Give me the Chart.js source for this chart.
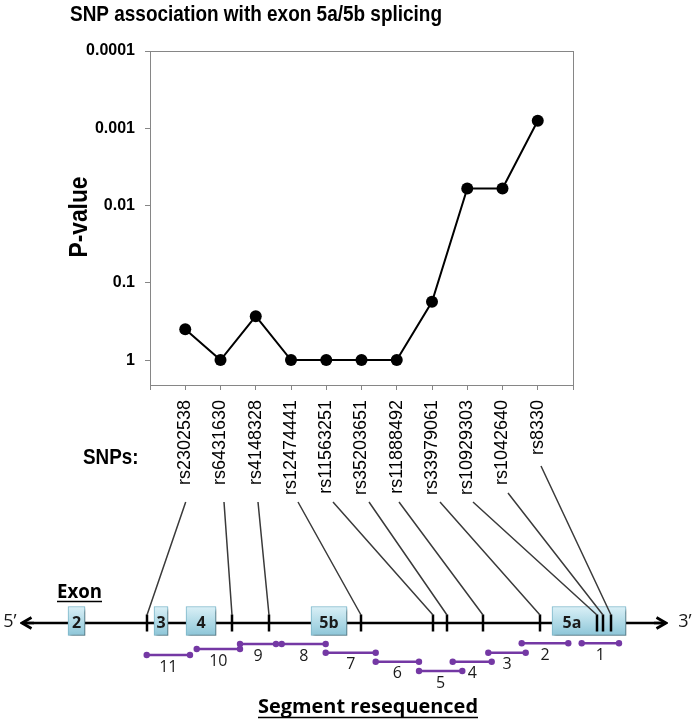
<!DOCTYPE html>
<html>
<head>
<meta charset="utf-8">
<title>SNP association with exon 5a/5b splicing</title>
<script src="https://cdn.jsdelivr.net/npm/chart.js@4.4.1/dist/chart.umd.min.js"></script>
<style>
html, body { margin: 0; padding: 0; background: #fff; }
#wrap { position: relative; width: 694px; height: 721px; }
#wrap canvas { position: absolute; left: 0; top: 0; }
</style>
</head>
<body>
<div id="wrap">
  <canvas id="plot" width="694" height="721"></canvas>
  <canvas id="gene" width="694" height="721"></canvas>
</div>
<script>
// SNPs in gene order and their association p-values
const snps = ["rs2302538", "rs6431630", "rs4148328", "rs12474441", "rs11563251",
              "rs35203651", "rs11888492", "rs33979061", "rs10929303", "rs1042640", "rs8330"];
const pValues = [0.40, 1, 0.27, 1, 1, 1, 1, 0.176, 0.006, 0.006, 0.0008];

const yTicks = [0.0001, 0.001, 0.01, 0.1, 1];
const yTickLabels = ["0.0001", "0.001", "0.01", "0.1", "1"];

// gene schematic, in schematic units
const exonNames = ["2", "3", "4", "5b", "5a"];
const exonStart = [68, 154, 186, 311, 552];
const exonEnd = [85, 168, 216, 347, 626];
const exonLabelX = [76.5, 161, 201, 329, 572];

const snpPos = [147, 232, 269, 361, 433, 447, 483, 540, 597, 603, 611];
const connTopX = [185.7, 224, 258, 298, 333, 369, 399, 440, 473, 508, 541];
const connTopY = [502, 502, 502, 502, 502, 502, 502, 502, 502, 493, 466];

const segNames = ["1", "2", "3", "4", "5", "6", "7", "8", "9", "10", "11"];
const segStart = [581.7, 521.7, 488.3, 452.7, 419, 375.7, 325.7, 281.7, 240, 196.7, 146.7];
const segEnd = [619, 568.3, 525.7, 491.7, 462.3, 419, 375.7, 325.7, 276, 240, 190];
const segRow = [643.3, 643.3, 652.7, 661.7, 671, 661.7, 652.7, 644, 644, 649, 655];

const geneRow = 623;
const exonRow = 621;
const connBottom = 615;
const geneFrom = 27, geneTo = 661;

const ARIAL = "'Liberation Sans', Arial, sans-serif";
const CALI = "'Open Sans', Lato, sans-serif";

// draw text squeezed/stretched along its direction to a given width
function fitText(ctx, txt, x, y, font, align, width, rot) {
    ctx.save();
    ctx.font = font;
    ctx.textAlign = align;
    ctx.textBaseline = "alphabetic";
    ctx.translate(x, y);
    if (rot) ctx.rotate(rot);
    const w = ctx.measureText(txt).width;
    ctx.scale(width / w, 1);
    ctx.fillText(txt, 0, 0);
    ctx.restore();
}

const plotText = {
    id: "plotText",
    afterDraw(chart) {
        const { ctx, chartArea: a } = chart;
        ctx.save();
        ctx.strokeStyle = "#868686";
        ctx.lineWidth = 1;
        ctx.strokeRect(Math.round(a.left) + 0.5, Math.round(a.top) + 0.5,
            Math.round(a.right - a.left), Math.round(a.bottom - a.top));
        ctx.fillStyle = "#000";
        fitText(ctx, "SNP association with exon 5a/5b splicing", 256, 21,
            "bold 22px " + ARIAL, "center", 372);
        fitText(ctx, "SNPs:", 83, 464, "bold 22px " + ARIAL, "left", 55.5);
        fitText(ctx, "P-value", 87, 217, "bold 26px " + ARIAL, "center", 81, -Math.PI / 2);
        ctx.restore();
    }
};

new Chart(document.getElementById("plot"), {
    type: "line",
    data: {
        datasets: [{
            data: pValues.map((p, i) => ({ x: i + 1, y: p })),
            borderColor: "#000",
            borderWidth: 2,
            pointRadius: 6,
            pointBackgroundColor: "#000",
            pointBorderWidth: 0,
            tension: 0
        }]
    },
    options: {
        responsive: false,
        animation: false,
        events: [],
        layout: { autoPadding: false, padding: { left: 0, right: 121, top: 51, bottom: 0 } },
        plugins: { legend: { display: false }, tooltip: { enabled: false } },
        scales: {
            x: {
                type: "linear",
                min: 0,
                max: 12,
                afterFit(s) { s.height = 336; },
                ticks: {
                    stepSize: 1,
                    autoSkip: false,
                    minRotation: 90,
                    maxRotation: 90,
                    padding: 10,
                    color: "#000",
                    font: { family: ARIAL, size: 18 },
                    callback: v => snps[v - 1] || ""
                },
                grid: { drawOnChartArea: false, tickLength: 5, color: "#868686" },
                border: { color: "#868686" }
            },
            y: {
                type: "logarithmic",
                reverse: true,
                min: 0.0001,
                max: 2.1,
                afterFit(s) { s.width = 150; },
                afterBuildTicks(s) { s.ticks = yTicks.map(v => ({ value: v })); },
                ticks: {
                    padding: 10,
                    color: "#000",
                    font: { family: ARIAL, size: 16, weight: "bold" },
                    callback: v => {
                        const i = yTicks.indexOf(v);
                        return i < 0 ? "" : yTickLabels[i];
                    }
                },
                grid: { drawOnChartArea: false, tickLength: 5, color: "#868686" },
                border: { color: "#868686" }
            }
        }
    },
    plugins: [plotText]
});

// ---- gene schematic ----

function arrowHead(dir) {
    const c = document.createElement("canvas");
    c.width = 14;
    c.height = 14;
    const g = c.getContext("2d");
    if (dir > 0) { g.translate(14, 0); g.scale(-1, 1); }
    g.strokeStyle = "#000";
    g.lineWidth = 2.8;
    g.beginPath();
    g.moveTo(11.5, 1.5);
    g.lineTo(2, 7);
    g.lineTo(11.5, 12.5);
    g.stroke();
    g.lineWidth = 2.5;
    g.beginPath();
    g.moveTo(2, 7);
    g.lineTo(14, 7);
    g.stroke();
    return c;
}

function withGaps(starts, ends, ys0, ys1) {
    const out = [];
    starts.forEach((s, i) => {
        out.push({ x: s, y: ys0[i] });
        out.push({ x: ends[i], y: ys1[i] });
        out.push({ x: ends[i], y: null });
    });
    return out;
}

const exonShadow = {
    id: "exonShadow",
    beforeDatasetDraw(chart, args) {
        if (args.index !== 1) return;
        const c = chart.ctx;
        c.save();
        c.shadowColor = "rgba(0,0,0,0.4)";
        c.shadowBlur = 3;
        c.shadowOffsetX = 2.5;
        c.shadowOffsetY = 2.5;
    },
    afterDatasetDraw(chart, args) {
        if (args.index === 1) chart.ctx.restore();
    }
};

const geneText = {
    id: "geneText",
    afterDatasetsDraw(chart) {
        const { ctx, scales: { x, y } } = chart;
        ctx.save();
        ctx.fillStyle = "#1a1a1a";
        ctx.textAlign = "center";
        ctx.textBaseline = "middle";

        ctx.font = "bold 16px " + CALI;
        exonNames.forEach((n, i) => {
            ctx.fillText(n, x.getPixelForValue(exonLabelX[i]), y.getPixelForValue(geneRow));
        });

        ctx.font = "16px " + CALI;
        segNames.forEach((n, i) => {
            const mid = (segStart[i] + segEnd[i]) / 2;
            ctx.fillText(n, x.getPixelForValue(mid), y.getPixelForValue(segRow[i]) + 12);
        });

        ctx.font = "18px " + CALI;
        ctx.fillText("5\u2019", 10, 622);
        ctx.fillText("3\u2019", 685, 622);

        ctx.fillStyle = "#000";
        fitText(ctx, "Exon", 57, 598, "bold 20px " + CALI, "left", 45);
        fitText(ctx, "Segment resequenced", 258, 713, "bold 19px " + CALI, "left", 220);
        ctx.strokeStyle = "#000";
        ctx.lineWidth = 1.5;
        ctx.beginPath();
        ctx.moveTo(57, 601.5); ctx.lineTo(102, 601.5);
        ctx.moveTo(258, 717.5); ctx.lineTo(478, 717.5);
        ctx.stroke();
        ctx.restore();
    }
};

new Chart(document.getElementById("gene"), {
    type: "scatter",
    data: {
        datasets: [
            {
                type: "line",
                data: [{ x: geneFrom, y: geneRow }, { x: geneTo, y: geneRow }],
                borderColor: "#000",
                borderWidth: 2.5,
                pointStyle: [arrowHead(-1), arrowHead(1)],
                pointRadius: 7,
                order: 6
            },
            {
                type: "bar",
                indexAxis: "y",
                data: exonStart.map((s, i) => ({ x: [s, exonEnd[i]], y: exonRow })),
                barThickness: 29,
                borderSkipped: false,
                borderWidth: 1,
                borderColor: "#7db9cc",
                backgroundColor(c) {
                    const chart = c.chart;
                    if (!chart.chartArea) return "#b5dde9";
                    const yc = chart.scales.y.getPixelForValue(exonRow);
                    const gr = chart.ctx.createLinearGradient(0, yc - 14, 0, yc + 14);
                    gr.addColorStop(0, "#d9eff6");
                    gr.addColorStop(0.5, "#b4dce8");
                    gr.addColorStop(1, "#8ec6d8");
                    return gr;
                },
                order: 5
            },
            {
                type: "scatter",
                data: snpPos.map(p => ({ x: p, y: geneRow })),
                pointStyle: "line",
                rotation: 90,
                pointRadius: 8.5,
                borderWidth: 2.5,
                borderColor: "#000",
                order: 4
            },
            {
                type: "line",
                data: withGaps(connTopX, snpPos, connTopY, snpPos.map(() => connBottom)),
                borderColor: "#3a3a3a",
                borderWidth: 1.5,
                pointRadius: 0,
                spanGaps: false,
                order: 3
            },
            {
                type: "line",
                data: withGaps(segStart, segEnd, segRow, segRow),
                borderColor: "#7438a4",
                borderWidth: 2.5,
                pointRadius: 3.2,
                pointBackgroundColor: "#7438a4",
                pointBorderWidth: 0,
                spanGaps: false,
                order: 2
            }
        ]
    },
    options: {
        responsive: false,
        animation: false,
        events: [],
        layout: { autoPadding: false, padding: 0 },
        plugins: { legend: { display: false }, tooltip: { enabled: false } },
        scales: {
            x: { type: "linear", min: 0, max: 694, display: false, offset: false },
            y: { type: "linear", min: 0, max: 721, reverse: true, display: false, offset: false }
        }
    },
    plugins: [exonShadow, geneText]
});
</script>
</body>
</html>
